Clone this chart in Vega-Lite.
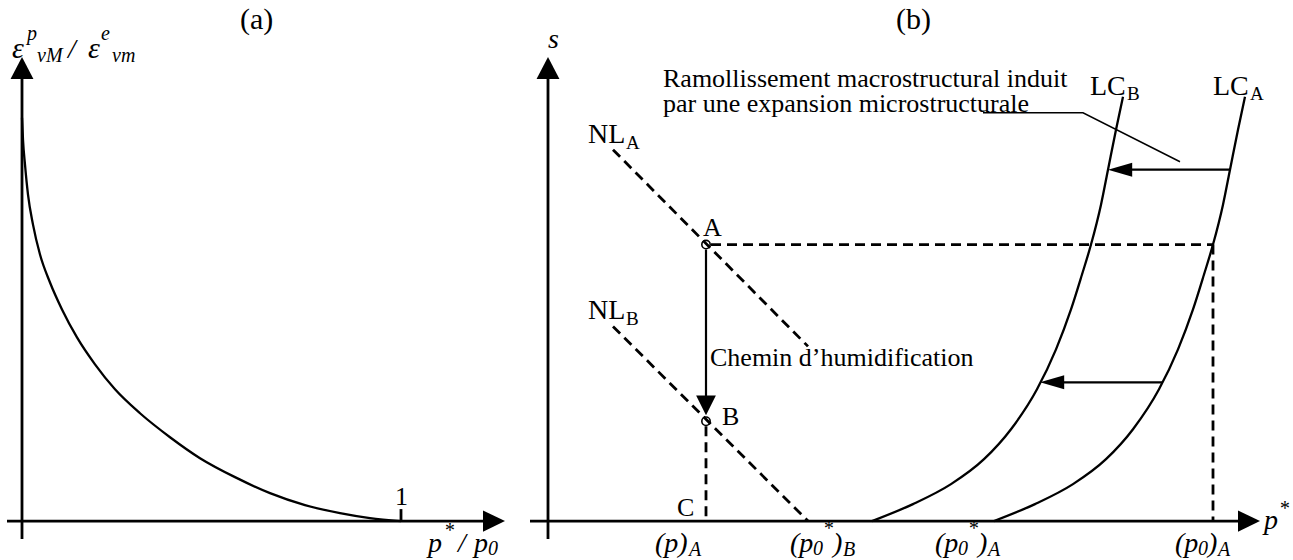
{
  "$schema": "https://vega.github.io/schema/vega-lite/v6.json",
  "width": 1293,
  "height": 560,
  "autosize": {"type": "fit", "contains": "padding"},
  "padding": 0,
  "background": "white",
  "config": {"view": {"stroke": null}},
  "datasets": {
    "axes": [
      {"id": "a_y", "o": 0, "x": 22, "y": 20}, {"id": "a_y", "o": 1, "x": 22, "y": 485},
      {"id": "a_x", "o": 0, "x": 7, "y": 38}, {"id": "a_x", "o": 1, "x": 490, "y": 38},
      {"id": "tick1", "o": 0, "x": 401, "y": 38}, {"id": "tick1", "o": 1, "x": 401, "y": 50},
      {"id": "b_y", "o": 0, "x": 548, "y": 20}, {"id": "b_y", "o": 1, "x": 548, "y": 485},
      {"id": "b_x", "o": 0, "x": 530, "y": 38}, {"id": "b_x", "o": 1, "x": 1245, "y": 38}
    ],
    "curves": [
      {"id": "ca", "o": 0, "x": 22, "y": 442}, {"id": "ca", "o": 1, "x": 23, "y": 420},
      {"id": "ca", "o": 2, "x": 25, "y": 395}, {"id": "ca", "o": 3, "x": 28, "y": 365},
      {"id": "ca", "o": 4, "x": 33, "y": 335}, {"id": "ca", "o": 5, "x": 40, "y": 305},
      {"id": "ca", "o": 6, "x": 50, "y": 277}, {"id": "ca", "o": 7, "x": 62, "y": 250},
      {"id": "ca", "o": 8, "x": 77, "y": 222}, {"id": "ca", "o": 9, "x": 95, "y": 195},
      {"id": "ca", "o": 10, "x": 115, "y": 170}, {"id": "ca", "o": 11, "x": 140, "y": 146},
      {"id": "ca", "o": 12, "x": 170, "y": 122}, {"id": "ca", "o": 13, "x": 200, "y": 101},
      {"id": "ca", "o": 14, "x": 235, "y": 82}, {"id": "ca", "o": 15, "x": 270, "y": 66},
      {"id": "ca", "o": 16, "x": 305, "y": 54}, {"id": "ca", "o": 17, "x": 340, "y": 46},
      {"id": "ca", "o": 18, "x": 370, "y": 41}, {"id": "ca", "o": 19, "x": 401, "y": 38},
      {"id": "LCA", "o": 0, "x": 994, "y": 38}, {"id": "LCA", "o": 1, "x": 1035, "y": 55},
      {"id": "LCA", "o": 2, "x": 1073, "y": 75}, {"id": "LCA", "o": 3, "x": 1106, "y": 100},
      {"id": "LCA", "o": 4, "x": 1133, "y": 130}, {"id": "LCA", "o": 5, "x": 1159, "y": 170},
      {"id": "LCA", "o": 6, "x": 1178, "y": 210}, {"id": "LCA", "o": 7, "x": 1193, "y": 250},
      {"id": "LCA", "o": 8, "x": 1204, "y": 285}, {"id": "LCA", "o": 9, "x": 1213, "y": 315},
      {"id": "LCA", "o": 10, "x": 1223, "y": 355}, {"id": "LCA", "o": 11, "x": 1230, "y": 390},
      {"id": "LCA", "o": 12, "x": 1238, "y": 430}, {"id": "LCA", "o": 13, "x": 1245, "y": 463},
      {"id": "LCB", "o": 0, "x": 872, "y": 38}, {"id": "LCB", "o": 1, "x": 913, "y": 55},
      {"id": "LCB", "o": 2, "x": 951, "y": 75}, {"id": "LCB", "o": 3, "x": 984, "y": 100},
      {"id": "LCB", "o": 4, "x": 1011, "y": 130}, {"id": "LCB", "o": 5, "x": 1037, "y": 170},
      {"id": "LCB", "o": 6, "x": 1056, "y": 210}, {"id": "LCB", "o": 7, "x": 1071, "y": 250},
      {"id": "LCB", "o": 8, "x": 1082, "y": 285}, {"id": "LCB", "o": 9, "x": 1091, "y": 315},
      {"id": "LCB", "o": 10, "x": 1101, "y": 355}, {"id": "LCB", "o": 11, "x": 1108, "y": 390},
      {"id": "LCB", "o": 12, "x": 1116, "y": 430}, {"id": "LCB", "o": 13, "x": 1123, "y": 463}
    ],
    "shafts": [
      {"id": "AB", "o": 0, "x": 706, "y": 310}, {"id": "AB", "o": 1, "x": 706, "y": 160},
      {"id": "h1", "o": 0, "x": 1230, "y": 390}, {"id": "h1", "o": 1, "x": 1125, "y": 390},
      {"id": "h2", "o": 0, "x": 1162, "y": 177}, {"id": "h2", "o": 1, "x": 1058, "y": 177}
    ],
    "leader": [
      {"id": "ld", "o": 0, "x": 983, "y": 447}, {"id": "ld", "o": 1, "x": 1083, "y": 447},
      {"id": "ld", "o": 2, "x": 1180, "y": 398}
    ],
    "dashed": [
      {"id": "NLA", "o": 0, "x": 613, "y": 410}, {"id": "NLA", "o": 1, "x": 808, "y": 213},
      {"id": "NLB", "o": 0, "x": 613, "y": 233}, {"id": "NLB", "o": 1, "x": 808, "y": 38},
      {"id": "Ah", "o": 0, "x": 711, "y": 315}, {"id": "Ah", "o": 1, "x": 1213, "y": 315},
      {"id": "Rv", "o": 0, "x": 1213, "y": 315}, {"id": "Rv", "o": 1, "x": 1213, "y": 38},
      {"id": "BC", "o": 0, "x": 706, "y": 133}, {"id": "BC", "o": 1, "x": 706, "y": 38}
    ],
    "heads": [
      {"dir": "up", "x": 22, "y": 503},
      {"dir": "right", "x": 505, "y": 38},
      {"dir": "up", "x": 548, "y": 503},
      {"dir": "right", "x": 1260, "y": 38},
      {"dir": "down", "x": 706, "y": 144},
      {"dir": "left", "x": 1108, "y": 390},
      {"dir": "left", "x": 1040, "y": 177}
    ],
    "points": [
      {"name": "A", "x": 706, "y": 315},
      {"name": "B", "x": 706, "y": 138}
    ],
    "titles": [
      {"t": "(a)", "x": 240, "y": 531},
      {"t": "(b)", "x": 896, "y": 531}
    ],
    "note": [
      {"t": "Ramollissement macrostructural induit\npar une expansion microstructurale", "x": 663, "y": 473}
    ],
    "txt": [
      {"t": "1", "x": 395, "y": 54},
      {"t": "A", "x": 703, "y": 324},
      {"t": "B", "x": 722, "y": 134},
      {"t": "C", "x": 677, "y": 43},
      {"t": "Chemin d’humidification", "x": 710, "y": 193}
    ],
    "big": [
      {"t": "NL", "x": 588, "y": 417},
      {"t": "NL", "x": 588, "y": 240},
      {"t": "LC", "x": 1090, "y": 465},
      {"t": "LC", "x": 1213, "y": 465}
    ],
    "subn": [
      {"t": "A", "x": 626, "y": 411},
      {"t": "B", "x": 626, "y": 234},
      {"t": "B", "x": 1127, "y": 460},
      {"t": "A", "x": 1250, "y": 460}
    ],
    "it": [
      {"t": "s", "x": 548, "y": 512},
      {"t": "/", "x": 68, "y": 502},
      {"t": "p", "x": 428, "y": 7},
      {"t": "/", "x": 458, "y": 7},
      {"t": "p", "x": 474, "y": 7},
      {"t": "(p)", "x": 655, "y": 7},
      {"t": "(p", "x": 790, "y": 7},
      {"t": ")", "x": 833, "y": 7},
      {"t": "(p", "x": 935, "y": 7},
      {"t": ")", "x": 978, "y": 7},
      {"t": "(p", "x": 1175, "y": 7},
      {"t": ")", "x": 1208, "y": 7},
      {"t": "p", "x": 1264, "y": 30}
    ],
    "its": [
      {"t": "p", "x": 27, "y": 520},
      {"t": "vM", "x": 37, "y": 498},
      {"t": "e", "x": 101, "y": 520},
      {"t": "vm", "x": 112, "y": 498},
      {"t": "*", "x": 444, "y": 22},
      {"t": "0", "x": 488, "y": 4},
      {"t": "A", "x": 689, "y": 3},
      {"t": "0", "x": 813, "y": 4},
      {"t": "*", "x": 823, "y": 24},
      {"t": "B", "x": 843, "y": 3},
      {"t": "0", "x": 958, "y": 4},
      {"t": "*", "x": 968, "y": 24},
      {"t": "A", "x": 988, "y": 3},
      {"t": "0", "x": 1198, "y": 4},
      {"t": "A", "x": 1218, "y": 3},
      {"t": "*", "x": 1279, "y": 44}
    ],
    "eps": [
      {"t": "ε", "x": 12, "y": 502},
      {"t": "ε", "x": 88, "y": 502}
    ]
  },
  "encoding": {
    "x": {"field": "x", "type": "quantitative", "axis": null, "scale": {"domain": [0, 1293], "nice": false, "zero": false}},
    "y": {"field": "y", "type": "quantitative", "axis": null, "scale": {"domain": [0, 560], "nice": false, "zero": false}}
  },
  "layer": [
    {
      "data": {"name": "dashed"},
      "mark": {"type": "line", "color": "black", "strokeWidth": 2.8, "strokeDash": [10, 6], "clip": false},
      "encoding": {"detail": {"field": "id"}, "order": {"field": "o", "type": "quantitative"}}
    },
    {
      "data": {"name": "curves"},
      "mark": {"type": "line", "color": "black", "strokeWidth": 2.3, "interpolate": "monotone", "clip": false},
      "encoding": {"detail": {"field": "id"}, "order": {"field": "o", "type": "quantitative"}}
    },
    {
      "data": {"name": "shafts"},
      "mark": {"type": "line", "color": "black", "strokeWidth": 2.2, "clip": false},
      "encoding": {"detail": {"field": "id"}, "order": {"field": "o", "type": "quantitative"}}
    },
    {
      "data": {"name": "leader"},
      "mark": {"type": "line", "color": "black", "strokeWidth": 1.5, "clip": false},
      "encoding": {"detail": {"field": "id"}, "order": {"field": "o", "type": "quantitative"}}
    },
    {
      "data": {"name": "axes"},
      "mark": {"type": "line", "color": "black", "strokeWidth": 2.8, "clip": false},
      "encoding": {"detail": {"field": "id"}, "order": {"field": "o", "type": "quantitative"}}
    },
    {
      "data": {"name": "heads"},
      "mark": {"type": "point", "filled": true, "color": "black", "opacity": 1, "size": 1936, "strokeWidth": 0, "clip": false},
      "encoding": {
        "shape": {"field": "dir", "type": "nominal", "legend": null,
          "scale": {"domain": ["up", "right", "down", "left"],
            "range": ["M0,0L0.52,1L-0.52,1Z", "M0,0L-1,-0.48L-1,0.48Z", "M0,0L0.45,-0.9L-0.45,-0.9Z", "M0,0L1.1,-0.32L1.1,0.32Z"]}}
      }
    },
    {
      "data": {"name": "points"},
      "mark": {"type": "point", "shape": "circle", "filled": false, "color": "black", "opacity": 1, "size": 70, "strokeWidth": 1.6, "clip": false}
    },
    {
      "data": {"name": "titles"},
      "mark": {"type": "text", "align": "left", "baseline": "alphabetic", "font": "Liberation Serif", "fontSize": 30, "color": "black"},
      "encoding": {"text": {"field": "t", "type": "nominal"}}
    },
    {
      "data": {"name": "note"},
      "mark": {"type": "text", "align": "left", "baseline": "alphabetic", "font": "Liberation Serif", "fontSize": 26, "lineBreak": "\n", "lineHeight": 25, "color": "black"},
      "encoding": {"text": {"field": "t", "type": "nominal"}}
    },
    {
      "data": {"name": "txt"},
      "mark": {"type": "text", "align": "left", "baseline": "alphabetic", "font": "Liberation Serif", "fontSize": 26, "color": "black"},
      "encoding": {"text": {"field": "t", "type": "nominal"}}
    },
    {
      "data": {"name": "big"},
      "mark": {"type": "text", "align": "left", "baseline": "alphabetic", "font": "Liberation Serif", "fontSize": 28, "color": "black"},
      "encoding": {"text": {"field": "t", "type": "nominal"}}
    },
    {
      "data": {"name": "subn"},
      "mark": {"type": "text", "align": "left", "baseline": "alphabetic", "font": "Liberation Serif", "fontSize": 19, "color": "black"},
      "encoding": {"text": {"field": "t", "type": "nominal"}}
    },
    {
      "data": {"name": "it"},
      "mark": {"type": "text", "align": "left", "baseline": "alphabetic", "font": "Liberation Serif", "fontSize": 28, "fontStyle": "italic", "color": "black"},
      "encoding": {"text": {"field": "t", "type": "nominal"}}
    },
    {
      "data": {"name": "its"},
      "mark": {"type": "text", "align": "left", "baseline": "alphabetic", "font": "Liberation Serif", "fontSize": 20, "fontStyle": "italic", "color": "black"},
      "encoding": {"text": {"field": "t", "type": "nominal"}}
    },
    {
      "data": {"name": "eps"},
      "mark": {"type": "text", "align": "left", "baseline": "alphabetic", "font": "Liberation Serif", "fontSize": 30, "fontStyle": "italic", "color": "black"},
      "encoding": {"text": {"field": "t", "type": "nominal"}}
    }
  ]
}
